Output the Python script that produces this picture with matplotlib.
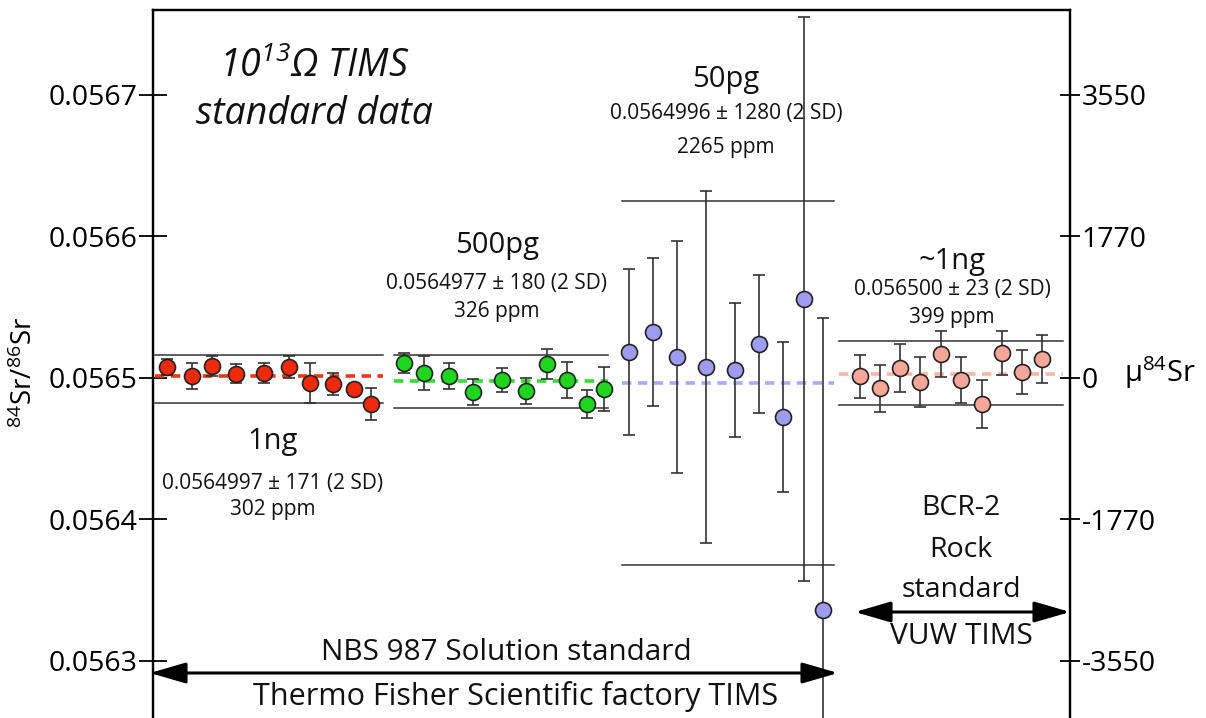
import matplotlib
matplotlib.use("Agg")
import matplotlib.pyplot as plt

plt.rcParams['font.family'] = ['Open Sans', 'DejaVu Sans']
plt.rcParams['mathtext.default'] = 'regular'

# 84Sr/86Sr runs, 2SD error bars
x_1ng = [14, 39, 59, 83, 111, 136, 157, 180, 201, 218]
r_1ng = [0.0565076, 0.0565011, 0.0565081, 0.0565025, 0.0565034,
         0.0565076, 0.0564963, 0.0564952, 0.0564917, 0.0564813]
e_1ng = [5.7e-6, 9.2e-6, 7.1e-6, 6.7e-6, 7.1e-6, 7.8e-6, 1.41e-5, 7.8e-6, 3.5e-6, 1.13e-5]

x_500pg = [251, 271, 296, 320, 349, 373, 394, 414, 434, 451]
r_500pg = [0.0565100, 0.0565030, 0.0565011, 0.0564900, 0.0564982,
           0.0564907, 0.0565098, 0.0564982, 0.0564813, 0.0564917]
e_500pg = [7.1e-6, 1.2e-5, 9.5e-6, 9.2e-6, 8.7e-6, 9.2e-6, 1.06e-5, 1.25e-5, 9.9e-6, 1.54e-5]

x_50pg = [476, 500, 524, 553, 582, 606, 630, 651, 670]
r_50pg = [0.0565178, 0.0565322, 0.0565145, 0.0565076, 0.0565051,
          0.0565237, 0.0564719, 0.0565553, 0.0563357]
e_50pg = [5.87e-5, 5.23e-5, 8.2e-5, 1.244e-4, 4.73e-5, 4.88e-5, 5.3e-5, 1.993e-4, 2.064e-4]

x_bcr = [707, 727, 747, 767, 788, 808, 829, 849, 869, 889]
r_bcr = [0.0565008, 0.0564924, 0.0565065, 0.0564968, 0.0565166,
         0.0564982, 0.0564811, 0.0565175, 0.0565039, 0.0565129]
e_bcr = [1.52e-5, 1.66e-5, 1.7e-5, 1.77e-5, 1.63e-5, 1.63e-5, 1.7e-5, 1.55e-5, 1.55e-5, 1.7e-5]

# mean and 2SD band per group
means = [0.0565011, 0.0564975, 0.0564963, 0.0565025]
band_hi = [0.0565161, 0.0565161, 0.0566247, 0.0565258]
band_lo = [0.0564822, 0.0564784, 0.0563675, 0.0564808]
spans = [(2, 230), (241, 455), (469, 681), (686, 910)]

names = ['1ng', '500pg', '50pg', '~1ng']
stats = ['0.0564997 \u00b1 171 (2 SD)', '0.0564977 \u00b1 180 (2 SD)',
         '0.0564996 \u00b1 1280 (2 SD)', '0.056500 \u00b1 23 (2 SD)']
ppm = ['302 ppm', '326 ppm', '2265 ppm', '399 ppm']

left_ticks = [0.0563, 0.0564, 0.0565, 0.0566, 0.0567]
right_labels = ['-3550', '-1770', '0', '1770', '3550']

face = ['#f02a0a', '#1fd51f', '#9c9df0', '#f6a797']
dash = ['#e83a1a', '#33dd33', '#aaabf5', '#f5b6a6']

fig = plt.figure(figsize=(12.06, 7.18), dpi=100)
ax = fig.add_axes([153/1206, 0, 917/1206, 708.5/718])
ax.set_xlim(0, 917)
ax.set_ylim(0.05625937, 0.05676007)

groups = [(x_1ng, r_1ng, e_1ng), (x_500pg, r_500pg, e_500pg),
          (x_50pg, r_50pg, e_50pg), (x_bcr, r_bcr, e_bcr)]
for i, (xs, ys, es) in enumerate(groups):
    a, b = spans[i]
    ax.plot([a, b], [band_hi[i]] * 2, color='#333333', lw=1.1, zorder=1)
    ax.plot([a, b], [band_lo[i]] * 2, color='#333333', lw=1.1, zorder=1)
    ax.plot([a, b], [means[i]] * 2, color=dash[i], lw=2.6,
            linestyle=(0, (2.6, 1.8)), zorder=2)
    ax.errorbar(xs, ys, yerr=es, fmt='o', ms=11.5, mfc=face[i], mec='#222222',
                mew=1.2, ecolor='#333333', elinewidth=1.2, capsize=4,
                capthick=1.2, zorder=3)

ax.spines['bottom'].set_visible(False)
for s in ['left', 'right', 'top']:
    ax.spines[s].set_linewidth(1.6)

ax.set_xticks([])
ax.set_yticks(left_ticks)
ax.set_yticklabels([f'{t:.4f}' for t in left_ticks])
ax.tick_params(axis='y', direction='inout', length=20, width=1.3,
               labelsize=20.5, pad=1)

ax2 = ax.twinx()
ax2.set_ylim(ax.get_ylim())
ax2.set_yticks(left_ticks)
ax2.set_yticklabels(right_labels)
ax2.tick_params(axis='y', direction='inout', length=15, width=1.3,
                labelsize=20.5, pad=1)
ax2.spines['bottom'].set_visible(False)
for s in ['left', 'right', 'top']:
    ax2.spines[s].set_linewidth(1.6)


def px(x, y):
    # pixel position -> axes fraction
    return ((x - 153) / 917, (718 - y) / 708.5)


def put(x, y, s, size, **kw):
    ax.text(*px(x, y), s, transform=ax.transAxes, ha='center', va='center',
            fontsize=size, color='#111111', **kw)


put(314, 90, '10$^{13}$\u03a9 TIMS\nstandard data', 27, style='italic',
    linespacing=1.3)

label_pos = [(273, 442, 483, 510), (497, 245, 283, 312),
             (726, 80, 113, 148), (952, 262, 290, 318)]
for i, (cx, y1, y2, y3) in enumerate(label_pos):
    put(cx, y1, names[i], 21)
    put(cx, y2, stats[i], 15)
    put(cx, y3, ppm[i], 15)

put(961, 508, 'BCR-2', 20.5)
put(961, 550, 'Rock', 20.5)
put(961, 590, 'standard', 20.5)
put(961, 637, 'VUW TIMS', 21.5)
put(506, 652, 'NBS 987 Solution standard', 21.4)
put(516, 697, 'Thermo Fisher Scientific factory TIMS', 22)

arrow = dict(arrowstyle='<|-|>,head_length=1.1,head_width=0.32',
             color='black', lw=2.2, mutation_scale=20, shrinkA=0, shrinkB=0)
ax.annotate('', xy=px(150, 673), xytext=px(838, 673),
            xycoords='axes fraction', textcoords='axes fraction',
            arrowprops=arrow, annotation_clip=False)
ax.annotate('', xy=px(855, 612), xytext=px(1070, 612),
            xycoords='axes fraction', textcoords='axes fraction',
            arrowprops=arrow, annotation_clip=False)

fig.text(25 / 1206, 1 - 372 / 718, '$^{84}$Sr/$^{86}$Sr', rotation=90,
         ha='center', va='center', fontsize=20)
fig.text(1160 / 1206, 1 - 373 / 718, '\u03bc$^{84}$Sr',
         ha='center', va='center', fontsize=21)

fig.savefig('out.png', dpi=100)
